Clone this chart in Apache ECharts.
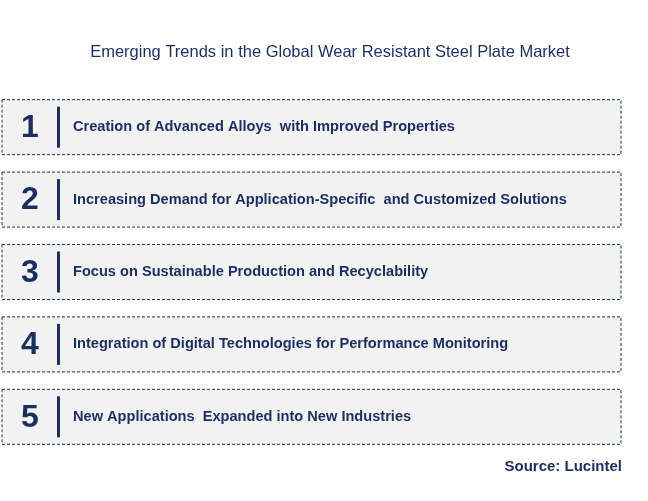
<!DOCTYPE html>
<html><head><meta charset="utf-8">
<script src="https://cdn.jsdelivr.net/npm/echarts@6/dist/echarts.min.js"></script>
<style>html,body{margin:0;padding:0;background:#fff}#c{width:648px;height:501px}</style>
</head><body><div id="c"></div>
<script>
const numbers = ['1','2','3','4','5'];
const trends = [
  'Creation of Advanced Alloys  with Improved Properties',
  'Increasing Demand for Application-Specific  and Customized Solutions',
  'Focus on Sustainable Production and Recyclability',
  'Integration of Digital Technologies for Performance Monitoring',
  'New Applications  Expanded into New Industries'
];
const navy = '#1a2f5e';
const chart = echarts.init(document.getElementById('c'));
chart.setOption({
  animation: false,
  title: {text: 'Emerging Trends in the Global Wear Resistant Steel Plate Market', left: 325, top: 39, textAlign: 'center',
    textStyle: {color: navy, fontSize: 16.5, fontWeight: 'normal', fontFamily: 'Liberation Sans, Arial'}},
  graphic: [{type: 'text', right: 26, top: 459, style: {text: 'Source: Lucintel', fill: navy, font: 'bold 15px Liberation Sans, Arial'}}],
  grid: {left: 2, right: 27, top: 91, bottom: 48},
  xAxis: {type: 'value', min: 0, max: 1, show: false},
  yAxis: {type: 'category', data: numbers, inverse: true, show: false},
  series: [{
    type: 'custom',
    data: numbers.map((n, i) => [0, i]),
    renderItem: function (params, api) {
      const i = api.value(1);
      const c = api.coord([0, i]);
      const e = api.coord([1, i]);
      const h = 55, top = c[1] - h / 2;
      return {type: 'group', children: [
        {type: 'rect', shape: {x: c[0], y: top, width: e[0] - c[0], height: h},
          style: {fill: '#f2f2f2', stroke: navy, lineWidth: 1, lineDash: [3, 2]}},
        {type: 'text', style: {text: numbers[i], x: c[0] + 28, y: c[1] + 1, align: 'center', verticalAlign: 'middle',
          fill: navy, font: 'bold 32px Liberation Sans, Arial'}},
        {type: 'rect', shape: {x: c[0] + 55, y: top + 7, width: 3, height: h - 14}, style: {fill: navy}},
        {type: 'text', style: {text: trends[i], x: c[0] + 71, y: c[1], verticalAlign: 'middle',
          fill: navy, font: 'bold 14.6px Liberation Sans, Arial'}}
      ]};
    }
  }]
});
</script></body></html>
